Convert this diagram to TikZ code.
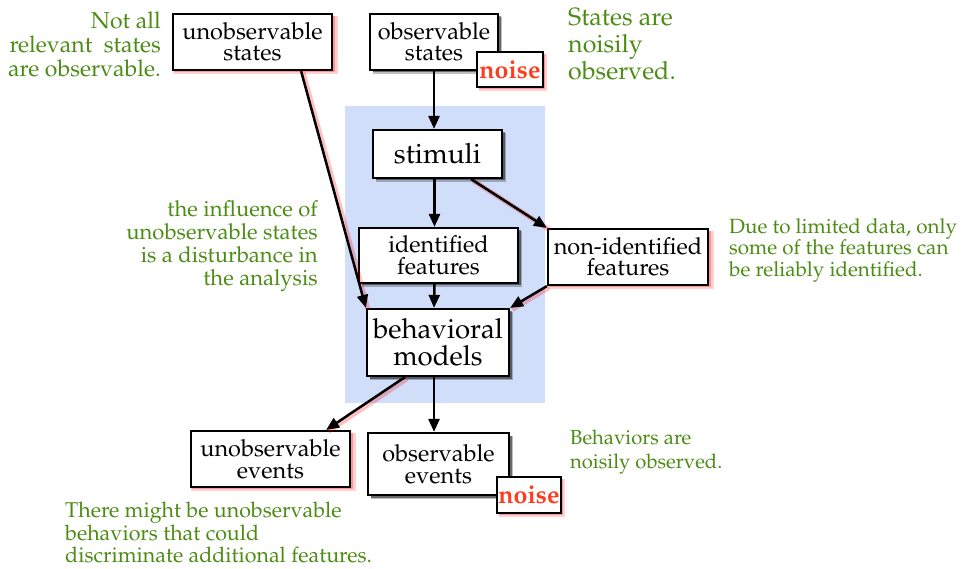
\documentclass[tikz,border=0pt]{standalone}
\usepackage[T1]{fontenc}
\usepackage{mathpazo}
\usetikzlibrary{shadows,arrows.meta}
\definecolor{notegreen}{RGB}{76,140,20}
\definecolor{noisered}{RGB}{255,60,30}
\definecolor{panel}{RGB}{208,222,250}
\tikzset{
 box/.style={draw=black, line width=2.2pt, fill=white, inner sep=0pt, align=center, font=\fontsize{23.5}{21.5}\selectfont},
 bshadow/.style={drop shadow={shadow xshift=3.5pt, shadow yshift=-3.5pt, fill=black, opacity=0.25, shadow scale=1.01},
                 drop shadow={shadow xshift=2.5pt, shadow yshift=-2.5pt, fill=black, opacity=0.45}},
 rshadow/.style={drop shadow={shadow xshift=3pt, shadow yshift=-3pt, fill=red, opacity=0.18, shadow scale=1.04},
                 drop shadow={shadow xshift=2pt, shadow yshift=-2pt, fill=red, opacity=0.3, shadow scale=1.01}},
 conn/.style={line width=2.5pt, -{Triangle[length=13pt,width=11pt]}},
 rconn/.style={conn, preaction={draw=red, opacity=0.25, line width=5pt, -, transform canvas={xshift=2pt,yshift=-1.5pt}}},
 note/.style={text=notegreen, inner sep=0pt, font=\fontsize{20}{24}\selectfont},
 noisebox/.style={box, rshadow, text=noisered, font=\fontsize{25}{25}\selectfont\bfseries}
}
\begin{document}
\begin{tikzpicture}[x=1pt,y=-1pt]
\useasboundingbox (0,0) rectangle (969,569);
\fill[panel] (345,106) rectangle (545,403);

\node[box,rshadow,minimum width=159pt,minimum height=56pt] (us) at (252.5,42) {unobservable\\states};
\node[box,bshadow,minimum width=128pt,minimum height=56pt] (os) at (434,42) {observable\\states};
\node[noisebox,minimum width=66pt,minimum height=35pt] (n1) at (510,69.5) {noise};
\node[box,bshadow,minimum width=129pt,minimum height=48pt,font=\fontsize{28}{28}\selectfont] (st) at (437.5,154) {stimuli};
\node[box,bshadow,minimum width=159pt,minimum height=55pt] (idf) at (438.5,255.5) {identified\\features};
\node[box,rshadow,minimum width=160pt,minimum height=56pt] (nif) at (628,257) {non-identified\\features};
\node[box,bshadow,minimum width=142pt,minimum height=67pt,font=\fontsize{27.6}{27}\selectfont] (bm) at (438,342.5) {behavioral\\models};
\node[box,rshadow,minimum width=159pt,minimum height=56pt] (ue) at (270.5,459) {unobservable\\events};
\node[box,bshadow,minimum width=141pt,minimum height=62pt] (oe) at (438.5,464) {observable\\events};
\node[noisebox,minimum width=64pt,minimum height=36pt] (n2) at (529,495) {noise};

\draw[conn] (os.south) -- (os.south |- st.north);
\draw[conn] ([xshift=-3pt]st.south) -- ([xshift=-4pt]idf.north);
\draw[rconn] ([xshift=-32pt]st.south east) -- (nif.north west);
\draw[conn] ([xshift=-4pt]idf.south) -- ([xshift=-4pt]bm.north);
\draw[rconn] (nif.south west) -- (bm.north east);
\draw[rconn] ([xshift=-32pt]us.south east) -- (bm.north west);
\draw[rconn] ([xshift=-33pt]bm.south) -- ([xshift=-25pt]ue.north east);
\draw[conn] ([xshift=-4pt]bm.south) -- ([xshift=-4pt]bm.south |- oe.north);

\node[note,align=right,anchor=north east,font=\fontsize{23}{24}\selectfont] (t1) at (161,12) {Not all\\relevant \ states\\are observable.};
\node[note,align=left,anchor=north west,font=\fontsize{25}{27}\selectfont] (t2) at (568,8) {States are\\noisily\\observed.};
\node[note,align=right,anchor=north east,font=\fontsize{22}{23}\selectfont] (t3) at (318,200) {the influence of\\unobservable states\\is a disturbance in\\the analysis};
\node[note,align=left,anchor=north west,font=\fontsize{20.6}{21.5}\selectfont] (t4) at (729,218) {Due to limited data, only\\some of the features can\\be reliably identified.};
\node[note,align=left,anchor=north west,font=\fontsize{20.2}{24}\selectfont] (t5) at (570,430) {Behaviors are\\noisily observed.};
\node[note,align=left,anchor=north west,font=\fontsize{21.4}{22.5}\selectfont] (t6) at (65,502) {There might be unobservable\\behaviors that could\\discriminate additional features.};
\end{tikzpicture}
\end{document}
